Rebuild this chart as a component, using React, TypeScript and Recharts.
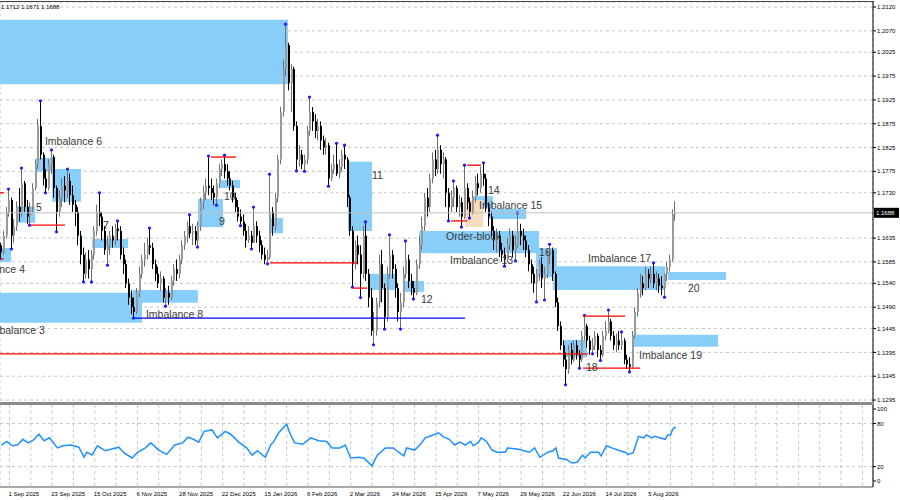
import React from "react"
import {
  ComposedChart,
  Bar,
  Line,
  XAxis,
  YAxis,
  CartesianGrid,
  ReferenceArea,
  ReferenceLine,
  ReferenceDot,
} from "recharts"

// daily bars; the open of each bar is the previous close
const firstOpen = 1.162
const closes = [
  1.1605, 1.164, 1.169, 1.1715, 1.164, 1.166, 1.17, 1.169, 1.175, 1.17,
  1.168, 1.17, 1.174, 1.179, 1.187, 1.181, 1.176, 1.174, 1.179, 1.1805,
  1.174, 1.169, 1.172, 1.1745, 1.1735, 1.1755, 1.1725, 1.1705, 1.169, 1.164,
  1.16, 1.156, 1.159, 1.157, 1.16, 1.165, 1.169, 1.168, 1.165, 1.161,
  1.162, 1.164, 1.163, 1.1655, 1.165, 1.16, 1.158, 1.154, 1.151, 1.149,
  1.148, 1.152, 1.156, 1.159, 1.16, 1.162, 1.1615, 1.158, 1.156, 1.154,
  1.155, 1.151, 1.152, 1.151, 1.1545, 1.157, 1.156, 1.159, 1.162, 1.164,
  1.166, 1.1645, 1.165, 1.163, 1.166, 1.171, 1.173, 1.1745, 1.174, 1.173,
  1.172, 1.175, 1.178, 1.179, 1.1775, 1.176, 1.1745, 1.172, 1.17, 1.168,
  1.167, 1.165, 1.163, 1.164, 1.1625, 1.166, 1.164, 1.162, 1.16, 1.159,
  1.1595, 1.169, 1.166, 1.172, 1.18, 1.19, 1.199, 1.204, 1.196, 1.199,
  1.187, 1.18, 1.181, 1.179, 1.18, 1.186, 1.19, 1.188, 1.186, 1.187,
  1.184, 1.1825, 1.183, 1.176, 1.178, 1.179, 1.177, 1.1785, 1.181, 1.18,
  1.172, 1.165, 1.158, 1.162, 1.16, 1.156, 1.164, 1.156, 1.151, 1.144,
  1.144, 1.15, 1.158, 1.153, 1.147, 1.156, 1.16, 1.157, 1.153, 1.148,
  1.15, 1.156, 1.159, 1.1545, 1.153, 1.152, 1.158, 1.162, 1.166, 1.172,
  1.17, 1.176, 1.18, 1.178, 1.182, 1.179, 1.18, 1.173, 1.17, 1.172,
  1.174, 1.17, 1.171, 1.168, 1.174, 1.171, 1.169, 1.172, 1.175, 1.174,
  1.177, 1.176, 1.17, 1.168, 1.165, 1.163, 1.164, 1.161, 1.16, 1.159,
  1.162, 1.164, 1.161, 1.162, 1.165, 1.164, 1.163, 1.161, 1.158, 1.156,
  1.154, 1.156, 1.158, 1.155, 1.156, 1.16, 1.161, 1.156, 1.15, 1.145,
  1.141, 1.138, 1.136, 1.14, 1.138, 1.141, 1.139, 1.138, 1.143, 1.145,
  1.142, 1.14, 1.141, 1.143, 1.14, 1.139, 1.143, 1.144, 1.146, 1.143,
  1.141, 1.142, 1.141, 1.142, 1.138, 1.137, 1.1365, 1.143, 1.148, 1.152,
  1.154, 1.153, 1.156, 1.155, 1.156, 1.154, 1.155, 1.1535, 1.153, 1.156,
  1.1575, 1.159, 1.1685, 1.1688,
]
const highs = [
  1.1625, 1.165, 1.17, 1.1738, 1.172, 1.1675, 1.1712, 1.174, 1.1782, 1.1755,
  1.1715, 1.171, 1.175, 1.18, 1.1885, 1.1923, 1.1815, 1.178, 1.18, 1.182,
  1.181, 1.1745, 1.1735, 1.176, 1.1765, 1.178, 1.177, 1.1745, 1.1715, 1.17,
  1.165, 1.1615, 1.1605, 1.161, 1.161, 1.166, 1.1705, 1.173, 1.169, 1.166,
  1.164, 1.165, 1.166, 1.1665, 1.1671, 1.166, 1.1615, 1.159, 1.155, 1.1525,
  1.151, 1.153, 1.1575, 1.16, 1.1625, 1.1635, 1.1656, 1.1625, 1.159, 1.1575,
  1.1565, 1.1555, 1.153, 1.1535, 1.1555, 1.158, 1.159, 1.16, 1.163, 1.165,
  1.167, 1.1684, 1.1665, 1.166, 1.167, 1.172, 1.1745, 1.176, 1.1807, 1.176,
  1.1745, 1.176, 1.179, 1.18, 1.1809, 1.179, 1.1775, 1.1755, 1.173, 1.1715,
  1.1695, 1.1685, 1.1665, 1.166, 1.165, 1.17, 1.167, 1.165, 1.163, 1.1615,
  1.161, 1.1769, 1.17, 1.173, 1.181, 1.191, 1.201, 1.2084, 1.2045, 1.2,
  1.1995, 1.188, 1.183, 1.182, 1.181, 1.187, 1.1931, 1.191, 1.1895, 1.1885,
  1.188, 1.185, 1.1845, 1.1835, 1.179, 1.181, 1.1834, 1.18, 1.182, 1.183,
  1.1805, 1.1725, 1.166, 1.163, 1.164, 1.162, 1.166, 1.1669, 1.157, 1.153,
  1.148, 1.151, 1.16, 1.161, 1.154, 1.1575, 1.1642, 1.161, 1.158, 1.154,
  1.152, 1.1575, 1.1629, 1.16, 1.156, 1.1545, 1.159, 1.164, 1.168, 1.173,
  1.174, 1.177, 1.1815, 1.182, 1.1851, 1.183, 1.1815, 1.1805, 1.174, 1.1735,
  1.1755, 1.1745, 1.1725, 1.172, 1.1788, 1.175, 1.172, 1.1735, 1.1765, 1.177,
  1.1785, 1.1793, 1.177, 1.171, 1.169, 1.166, 1.1655, 1.165, 1.1625, 1.1615,
  1.1635, 1.1655, 1.165, 1.164, 1.1688, 1.1665, 1.1655, 1.164, 1.162, 1.159,
  1.1575, 1.157, 1.159, 1.1595, 1.1575, 1.161, 1.1622, 1.1615, 1.1565, 1.151,
  1.146, 1.142, 1.1395, 1.141, 1.1415, 1.142, 1.142, 1.14, 1.144, 1.1473,
  1.1455, 1.143, 1.1425, 1.144, 1.1435, 1.141, 1.144, 1.146, 1.1484, 1.1465,
  1.144, 1.1435, 1.144, 1.1438, 1.1425, 1.139, 1.1385, 1.144, 1.149, 1.153,
  1.156, 1.1555, 1.1575, 1.157, 1.1575, 1.1583, 1.1565, 1.156, 1.1555, 1.156,
  1.1585, 1.16, 1.1695, 1.1712,
]
const lows = [
  1.159, 1.16, 1.1635, 1.168, 1.1612, 1.1625, 1.165, 1.167, 1.168, 1.169,
  1.1665, 1.1662, 1.169, 1.1735, 1.178, 1.18, 1.1745, 1.173, 1.1735, 1.177,
  1.172, 1.1648, 1.168, 1.17, 1.171, 1.172, 1.1705, 1.169, 1.166, 1.162,
  1.158, 1.1543, 1.155, 1.155, 1.1543, 1.159, 1.164, 1.166, 1.163, 1.16,
  1.1578, 1.16, 1.1615, 1.162, 1.163, 1.159, 1.156, 1.153, 1.1495, 1.1475,
  1.1467, 1.1475, 1.151, 1.155, 1.1575, 1.159, 1.16, 1.157, 1.1545, 1.153,
  1.1525, 1.15, 1.1492, 1.1495, 1.1505, 1.1535, 1.1545, 1.155, 1.158, 1.161,
  1.1625, 1.1635, 1.162, 1.162, 1.1616, 1.165, 1.1695, 1.1715, 1.1725, 1.1715,
  1.1705, 1.1704, 1.174, 1.1765, 1.176, 1.1745, 1.1735, 1.171, 1.169, 1.167,
  1.1661, 1.164, 1.1615, 1.1625, 1.1612, 1.1625, 1.1625, 1.1605, 1.159, 1.158,
  1.1581, 1.159, 1.164, 1.165, 1.171, 1.179, 1.189, 1.1975, 1.1945, 1.19,
  1.186, 1.1776, 1.1785, 1.178, 1.1775, 1.179, 1.185, 1.186, 1.1845, 1.184,
  1.182, 1.181, 1.181, 1.1744, 1.1755, 1.177, 1.1765, 1.176, 1.1775, 1.178,
  1.17, 1.164, 1.1532, 1.157, 1.158, 1.151, 1.155, 1.1545, 1.149, 1.143,
  1.1411, 1.143, 1.149, 1.15, 1.1444, 1.146, 1.155, 1.155, 1.151, 1.146,
  1.1444, 1.149, 1.155, 1.153, 1.1515, 1.1507, 1.1515, 1.157, 1.161, 1.165,
  1.168, 1.169, 1.175, 1.1765, 1.177, 1.177, 1.176, 1.17, 1.1671, 1.169,
  1.17, 1.169, 1.168, 1.1658, 1.1675, 1.1695, 1.1677, 1.1685, 1.171, 1.1725,
  1.173, 1.1745, 1.169, 1.166, 1.164, 1.161, 1.1605, 1.1595, 1.1585, 1.1576,
  1.1585, 1.161, 1.1595, 1.1587, 1.1615, 1.162, 1.161, 1.1595, 1.1565, 1.154,
  1.152, 1.1501, 1.1545, 1.153, 1.1505, 1.155, 1.158, 1.1545, 1.149, 1.144,
  1.14, 1.1365, 1.1327, 1.135, 1.137, 1.1375, 1.138, 1.1362, 1.1375, 1.142,
  1.1405, 1.139, 1.1392, 1.14, 1.1385, 1.1378, 1.1385, 1.142, 1.1435, 1.142,
  1.14, 1.1395, 1.14, 1.14, 1.137, 1.136, 1.1354, 1.136, 1.1425, 1.147,
  1.151, 1.1515, 1.1525, 1.153, 1.154, 1.153, 1.1525, 1.152, 1.1515, 1.1511,
  1.1545, 1.1565, 1.1585, 1.1671,
]

// bars marked with a fractal dot
const fractalHighs = [3, 8, 15, 19, 25, 37, 44, 56, 71, 78, 84, 95, 101, 107, 116, 126, 129, 137, 146, 152, 164, 170, 174, 181, 194, 206, 219, 228, 233, 245]
const fractalLows = [4, 11, 17, 21, 31, 34, 40, 50, 62, 74, 81, 90, 94, 100, 111, 114, 123, 132, 135, 140, 144, 150, 155, 168, 173, 176, 189, 193, 201, 204, 212, 217, 222, 225, 236, 249]

const priceTicks = [1.212, 1.207, 1.2025, 1.1975, 1.1925, 1.1875, 1.1825, 1.1775, 1.173, 1.1635, 1.1585, 1.154, 1.149, 1.1445, 1.1395, 1.1345, 1.1295]
const lastPrice = 1.1688
const titleText = "1.1712 1.1671 1.1688"

const dateBars = [3, 19, 35, 51, 67, 83, 99, 115, 131, 147, 163, 179, 195, 211, 227, 243]
const dateLabels = [
  "1 Sep 2025", "23 Sep 2025", "15 Oct 2025", "6 Nov 2025", "28 Nov 2025", "22 Dec 2025",
  "15 Jan 2026", "6 Feb 2026", "2 Mar 2026", "24 Mar 2026", "15 Apr 2026", "7 May 2026",
  "29 May 2026", "22 Jun 2026", "14 Jul 2026", "5 Aug 2026",
]

// oscillator in the lower window
const rsiBars = [
  0, 2, 4, 6, 8, 10, 12, 14, 16, 18, 21, 23, 26, 29, 31, 32, 34, 36, 39, 41,
  44, 46, 49, 51, 54, 56, 59, 62, 65, 68, 70, 72, 74, 76, 79, 81, 84, 86, 89, 92,
  94, 96, 99, 101, 102, 104, 107, 108, 110, 113, 116, 119, 122, 124, 127, 129, 131, 134, 136, 139,
  141, 144, 147, 149, 151, 152, 155, 157, 159, 162, 164, 166, 168, 170, 172, 174, 176, 177, 179, 180,
  182, 184, 186, 189, 190, 194, 198, 200, 202, 205, 207, 208, 209, 212, 214, 216, 218, 219, 221, 224,
  225, 227, 229, 232, 234, 235, 237, 238, 239, 241, 242, 244, 245, 247, 249, 250, 251, 252, 253,
]
const rsiValues = [
  50, 55, 49, 50, 58, 53, 57, 65, 56, 60, 46, 49, 50, 47, 33, 40, 36, 49, 42, 44,
  47, 39, 32, 40, 46, 53, 43, 37, 50, 53, 61, 58, 54, 69, 71, 60, 69, 65, 54, 46,
  36, 42, 33, 50, 54, 67, 79, 68, 53, 51, 60, 56, 55, 46, 46, 50, 32, 33, 32, 21,
  36, 46, 46, 40, 35, 46, 43, 50, 60, 64, 67, 61, 58, 50, 54, 50, 55, 49, 54, 60,
  55, 43, 40, 40, 46, 44, 40, 46, 33, 40, 42, 46, 32, 30, 25, 26, 36, 32, 40, 40,
  35, 49, 46, 42, 40, 37, 39, 50, 62, 60, 64, 60, 62, 60, 58, 64, 64, 73, 75,
]
const rsiTicks = [0, 20, 80, 100]
const rsiLevels = [20, 80]

// zones: [from bar, to bar, bottom price, top price]
const blueZones = [
  [-0.6, 107.5, 1.1958, 1.2093],
  [-0.6, 3.6, 1.1585, 1.1614],
  [5.8, 12.6, 1.1667, 1.1702],
  [13, 19.3, 1.1774, 1.1803],
  [19, 29.8, 1.1711, 1.178],
  [34, 47.5, 1.1614, 1.1633],
  [-0.6, 52.7, 1.1457, 1.152],
  [49.3, 73.7, 1.1499, 1.1526],
  [73.7, 83.1, 1.1658, 1.1717],
  [82, 89.5, 1.174, 1.1757],
  [100.7, 105.6, 1.1645, 1.1677],
  [130, 139, 1.165, 1.1795],
  [137.9, 147.7, 1.1526, 1.156],
  [151, 158.5, 1.1522, 1.1545],
  [156.7, 201.7, 1.1603, 1.165],
  [176.9, 184.4, 1.1698, 1.1723],
  [182.9, 196.8, 1.1675, 1.1696],
  [200.6, 208.4, 1.1553, 1.1614],
  [206.9, 249, 1.1526, 1.1576],
  [210.7, 219.7, 1.1385, 1.1421],
  [237, 268.9, 1.1407, 1.1432],
  [250.1, 271.9, 1.1547, 1.1564],
]
const orderBlock = [173.9, 180.7, 1.1658, 1.1715]

// levels: [from bar, to bar, price]
const redLevels = [
  [-0.6, 1, 1.173],
  [-0.6, 0.8, 1.1591],
  [10.7, 23.8, 1.1662],
  [78.6, 88, 1.1805],
  [100.7, 133.4, 1.1583],
  [131.9, 137.2, 1.153],
  [168.7, 174.7, 1.1671],
  [174.7, 179.9, 1.1788],
  [-0.6, 220.1, 1.1392],
  [218.2, 234, 1.1471],
  [218.2, 239.6, 1.1362],
]
const blueLevels = [[49.3, 173.9, 1.1467]]

const zoneTexts = ["Imbalance 6", "5", "7", "Imbalance 4", "Imbalance 3", "Imbalance 8", "9", "10", "11", "12", "Order-block", "Imbalance 13", "14", "Imbalance 15", "16", "Imbalance 17", "18", "Imbalance 19", "20"]
const zoneTextBars = [16.3, 12.9, 38.1, 8.8, 16.3, 54.2, 81.6, 83.5, 139, 157.4, 166.8, 168.3, 182.5, 179.2, 201.7, 220.1, 219.3, 239.2, 257.6]
const zoneTextPrices = [1.1839, 1.17, 1.1662, 1.157, 1.1442, 1.1476, 1.1671, 1.1723, 1.1767, 1.1507, 1.1639, 1.1589, 1.1736, 1.1704, 1.1606, 1.1593, 1.1364, 1.1389, 1.153]
const zoneTextEndAnchored = ["Imbalance 4", "Imbalance 3"]

const xDomain = [-0.565, 327]
const priceDomain = [1.12888, 1.21305]
const rsiDomain = [-8.3, 105.6]
const gridBars = Array.from({ length: 41 }, (_, k) => 3 + 8 * k)

const candles = closes.map((close, i) => {
  const open = i === 0 ? firstOpen : closes[i - 1]
  const high = Math.max(highs[i], open, close)
  const low = Math.min(lows[i], open, close)
  return {
    i,
    open,
    close,
    high,
    low,
    range: [low, high],
    hiDot: fractalHighs.includes(i),
    loDot: fractalLows.includes(i),
  }
})

const rsiData = rsiBars.map((i, k) => ({ i, v: rsiValues[k] }))

const BOX = "#87cefa"
const GRID = "#c6c6c6"

function Candle(props: any) {
  const { x, width, payload } = props
  let { y, height } = props
  if (height < 0) {
    y += height
    height = -height
  }
  const px = Math.round(x + width / 2 - 1)
  const k = payload.high > payload.low ? height / (payload.high - payload.low) : 0
  const top = y + (payload.high - Math.max(payload.open, payload.close)) * k
  const bodyH = Math.max(1, Math.abs(payload.close - payload.open) * k)
  const up = payload.close >= payload.open
  const body = up ? "#9a9a9a" : "#000000"
  const wick = up ? "#6e6e6e" : "#000000"
  return (
    <g>
      <line x1={px + 0.5} x2={px + 0.5} y1={y} y2={y + height} stroke={wick} strokeWidth={1} />
      <rect x={px} y={top} width={2} height={bodyH} fill={body} />
      {payload.hiDot && <circle cx={px + 0.5} cy={y} r={1.6} fill="#1c1cff" />}
      {payload.loDot && <circle cx={px + 0.5} cy={y + height} r={1.6} fill="#1c1cff" />}
    </g>
  )
}

function PriceTag(props: any) {
  const vb = props.viewBox
  if (!vb) return null
  const x = vb.x + vb.width + 1
  return (
    <g>
      <rect x={x} y={vb.y - 5} width={25} height={10} fill="#000" />
      <text x={x + 2} y={vb.y + 2.2} fontSize={6} fill="#fff">
        {lastPrice.toFixed(4)}
      </text>
    </g>
  )
}

function DateTick(props: any) {
  const { x, y, payload } = props
  const k = dateBars.indexOf(payload.value)
  if (k < 0) return <g />
  return (
    <text x={x - 1} y={y + 8.5} fontSize={6} fill="#000" textAnchor="start">
      {dateLabels[k]}
    </text>
  )
}

export default function App() {
  return (
    <div
      style={{
        position: "absolute",
        left: 0,
        top: 0,
        width: 900,
        height: 500,
        background: "#fff",
        fontFamily: "'Liberation Sans', Arial, sans-serif",
        overflow: "hidden",
      }}
    >
      <div style={{ position: "absolute", left: 0, top: 0 }}>
        <ComposedChart width={900} height={404} data={candles} margin={{ top: 2, right: 0, bottom: 1, left: 0 }}>
          <CartesianGrid stroke={GRID} strokeDasharray="3 3" />
          <XAxis
            dataKey="i"
            type="number"
            domain={xDomain}
            allowDataOverflow
            ticks={gridBars}
            interval={0}
            tick={false}
            tickLine={false}
            axisLine={false}
            height={0}
          />
          <YAxis
            orientation="right"
            width={27}
            domain={priceDomain}
            allowDataOverflow
            ticks={priceTicks}
            interval={0}
            tickFormatter={(v: number) => v.toFixed(4)}
            tick={{ fontSize: 6, fill: "#000" }}
            tickSize={3}
            tickMargin={1}
            axisLine={{ stroke: "#000" }}
            tickLine={{ stroke: "#000" }}
          />
          {blueZones.map(([x1, x2, y1, y2], k) => (
            <ReferenceArea key={`z${k}`} x1={x1} x2={x2} y1={y1} y2={y2} fill={BOX} fillOpacity={1} stroke="none" ifOverflow="hidden" />
          ))}
          <ReferenceArea
            x1={orderBlock[0]}
            x2={orderBlock[1]}
            y1={orderBlock[2]}
            y2={orderBlock[3]}
            fill="#f6dcbd"
            fillOpacity={1}
            stroke="none"
            ifOverflow="hidden"
          />
          <ReferenceLine y={lastPrice} stroke="#c0c0c0" strokeWidth={1} label={<PriceTag />} />
          {redLevels.map(([a, b, p], k) => (
            <ReferenceLine key={`r${k}`} segment={[{ x: a, y: p }, { x: b, y: p }]} stroke="#ff0000" strokeWidth={1.3} ifOverflow="hidden" />
          ))}
          {blueLevels.map(([a, b, p], k) => (
            <ReferenceLine key={`b${k}`} segment={[{ x: a, y: p }, { x: b, y: p }]} stroke="#0000ff" strokeWidth={1.3} ifOverflow="hidden" />
          ))}
          {zoneTexts.map((t, k) => (
            <ReferenceDot
              key={`t${k}`}
              x={zoneTextBars[k]}
              y={zoneTextPrices[k]}
              r={0}
              fill="none"
              stroke="none"
              ifOverflow="visible"
              label={{
                value: t,
                position: zoneTextEndAnchored.includes(t) ? "left" : "right",
                offset: 0,
                fontSize: 10.5,
                fill: "#3a3a3a",
              }}
            />
          ))}
          <Bar dataKey="range" barSize={2} shape={<Candle />} isAnimationActive={false} />
        </ComposedChart>
      </div>
      <div style={{ position: "absolute", left: 0, top: 404 }}>
        <ComposedChart width={900} height={96} data={rsiData} margin={{ top: 1, right: 0, bottom: 0, left: 0 }}>
          <CartesianGrid horizontal={false} stroke={GRID} strokeDasharray="3 3" />
          <XAxis
            dataKey="i"
            type="number"
            domain={xDomain}
            allowDataOverflow
            ticks={gridBars}
            interval={0}
            tick={<DateTick />}
            tickSize={0}
            tickMargin={0}
            tickLine={false}
            axisLine={{ stroke: "#555" }}
            height={13}
          />
          <YAxis
            orientation="right"
            width={27}
            domain={rsiDomain}
            allowDataOverflow
            ticks={rsiTicks}
            interval={0}
            tick={{ fontSize: 6, fill: "#000" }}
            tickSize={3}
            tickMargin={1}
            axisLine={{ stroke: "#000" }}
            tickLine={{ stroke: "#000" }}
          />
          {rsiLevels.map((v) => (
            <ReferenceLine key={v} y={v} stroke={GRID} strokeDasharray="3 3" />
          ))}
          <Line dataKey="v" type="linear" stroke="#1e90ff" strokeWidth={1.5} dot={false} isAnimationActive={false} />
        </ComposedChart>
      </div>
      <div style={{ position: "absolute", left: 0, top: 1, width: 874, height: 1, background: "#444" }} />
      <div style={{ position: "absolute", left: 0, top: 402, width: 874, height: 3, background: "#8a8a8a" }} />
      <div style={{ position: "absolute", left: 1, top: 3, fontSize: 6, lineHeight: "8px", color: "#000" }}>{titleText}</div>
    </div>
  )
}
